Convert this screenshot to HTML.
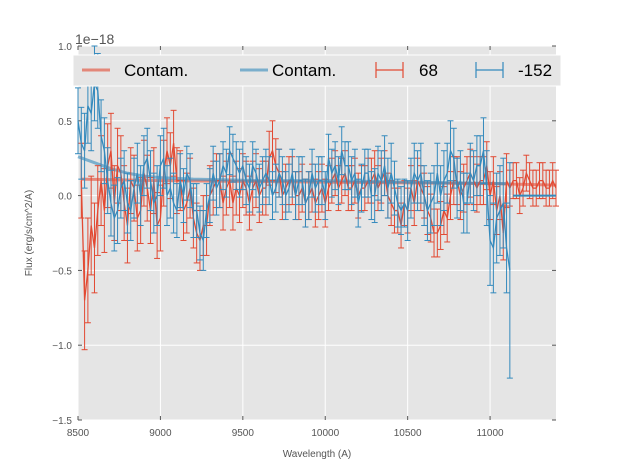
<!DOCTYPE html>
<html><head><meta charset="utf-8"><style>
body{margin:0;background:#fff}
svg{font-family:"Liberation Sans","DejaVu Sans",sans-serif}
</style></head><body>
<svg id="chart" width="617" height="467">
<rect x="78" y="46" width="478" height="374" fill="#e5e5e5"/>
<g id="grid"></g><g id="ticks"></g><g id="series"></g>
<text x="75" y="44" font-size="14" fill="#555">1e−18</text>
<text x="317" y="457" font-size="10" fill="#555" text-anchor="middle">Wavelength (A)</text>
<text transform="translate(32,233) rotate(-90)" font-size="10" fill="#555" text-anchor="middle">Flux (erg/s/cm^2/A)</text>
<g>
<rect x="73" y="55" width="488" height="31" fill="#e5e5e5" stroke="#fff" stroke-width="1"/>
<line x1="82" y1="70" x2="110" y2="70" stroke="#E24A33" stroke-width="3" opacity="0.6"/>
<text x="124" y="76" font-size="17" fill="#000">Contam.</text>
<line x1="240" y1="70" x2="268" y2="70" stroke="#348ABD" stroke-width="3" opacity="0.6"/>
<text x="272" y="76" font-size="17" fill="#000">Contam.</text>
<g stroke="#E24A33" stroke-width="1.2"><line x1="376" y1="70" x2="403" y2="70"/><line x1="376" y1="62" x2="376" y2="78"/><line x1="403" y1="62" x2="403" y2="78"/></g>
<text x="419" y="76" font-size="17" fill="#000">68</text>
<g stroke="#348ABD" stroke-width="1.2"><line x1="476" y1="70" x2="503" y2="70"/><line x1="476" y1="62" x2="476" y2="78"/><line x1="503" y1="62" x2="503" y2="78"/></g>
<text x="518" y="76" font-size="17" fill="#000">-152</text>
</g>
</svg>
<script>
const xTicks=[8500,9000,9500,10000,10500,11000];
const yTicks=[-1.5,-1.0,-0.5,0.0,0.5,1.0];
const yTickLabels=["−1.5","−1.0","−0.5","0.0","0.5","1.0"];
const redStart=8520, redStep=20;
const redY=[0.1,-0.7,-0.5,-0.2,-0.35,-0.1,0.1,-0.1,0.2,0.3,-0.05,0.2,0.15,-0.05,-0.2,0.1,0.05,-0.15,-0.1,0.15,0.05,-0.1,0.1,-0.2,-0.15,0.15,0.3,0.2,0.35,0.1,0.1,-0.1,-0.05,0.05,-0.15,-0.25,-0.3,-0.2,-0.2,0.0,0.05,0.1,0.1,-0.05,0.05,0.1,-0.05,0.05,0.0,0.1,0.05,-0.05,0.05,0.1,0.0,0.05,0.05,0.25,0.3,0.2,0.15,0.0,0.05,0.1,0.1,0.0,0.0,0.05,-0.05,0.0,0.05,-0.05,0.0,0.05,-0.05,0.05,0.1,0.15,0.05,0.1,0.15,0.05,0.05,0.1,0.0,0.05,0.05,0.1,0.1,0.15,0.05,0.1,0.15,0.0,-0.05,-0.1,-0.1,-0.2,-0.05,-0.1,0.05,-0.05,0.1,0.05,0.0,-0.1,-0.15,-0.25,-0.25,-0.2,-0.1,-0.15,0.0,0.1,0.1,0.0,0.05,0.1,0.15,0.1,0.05,0.1,0.1,0.2,0.0,0.1,-0.1,0.0,-0.25,0.1,0.05,0.1,0.1,0.0,0.05,0.15,0.1,0.05,0.05,0.1,0.1,0.05,0.05,0.1,0.05];
const redErr=[0.25,0.33,0.35,0.33,0.3,0.3,0.3,0.28,0.28,0.25,0.25,0.25,0.25,0.25,0.25,0.22,0.22,0.22,0.22,0.22,0.22,0.22,0.22,0.22,0.22,0.22,0.22,0.22,0.22,0.22,0.2,0.2,0.2,0.2,0.2,0.2,0.2,0.2,0.2,0.2,0.18,0.18,0.18,0.18,0.18,0.18,0.18,0.18,0.18,0.18,0.18,0.18,0.18,0.18,0.18,0.18,0.18,0.18,0.2,0.18,0.16,0.16,0.16,0.16,0.16,0.16,0.16,0.16,0.16,0.16,0.16,0.16,0.16,0.16,0.16,0.15,0.15,0.15,0.15,0.15,0.15,0.15,0.15,0.15,0.15,0.15,0.15,0.15,0.15,0.15,0.15,0.15,0.15,0.15,0.15,0.15,0.15,0.15,0.15,0.15,0.15,0.15,0.15,0.15,0.15,0.16,0.16,0.16,0.16,0.16,0.16,0.16,0.16,0.16,0.16,0.16,0.16,0.16,0.16,0.16,0.16,0.16,0.16,0.16,0.16,0.16,0.16,0.16,0.18,0.18,0.12,0.12,0.12,0.12,0.12,0.12,0.12,0.12,0.12,0.12,0.12,0.12,0.12,0.12,0.12];
const blueStart=8500, blueStep=20;
const blueY=[0.5,0.35,0.3,0.6,0.55,0.75,0.7,0.4,0.3,0.1,-0.05,-0.15,-0.1,0.05,0.1,-0.05,-0.1,0.05,0.15,0.0,0.2,0.25,0.1,-0.05,0.0,0.2,0.25,0.0,0.05,-0.05,-0.1,0.1,0.0,0.15,0.1,-0.1,-0.1,-0.25,-0.3,-0.1,0.0,0.15,0.05,0.1,0.2,0.15,0.3,0.25,0.2,0.15,0.2,0.1,0.05,0.2,0.15,0.05,0.1,0.15,0.1,0.0,0.05,0.15,0.1,0.0,0.05,0.15,0.0,0.1,0.1,-0.05,0.0,0.15,0.05,0.1,0.1,0.0,0.25,0.15,0.2,0.1,0.3,0.2,0.2,0.1,0.15,-0.05,0.05,0.15,0.15,0.0,0.0,0.15,0.1,0.2,0.05,0.15,0.05,-0.05,-0.1,-0.05,-0.1,0.05,0.15,0.1,0.15,0.0,-0.1,-0.05,0.0,0.15,0.0,0.1,0.15,0.3,0.25,0.05,0.1,-0.05,-0.05,0.15,0.1,0.2,0.2,0.3,0.05,-0.3,-0.35,-0.15,-0.1,-0.05,-0.35,-0.5];
const blueErr=[0.22,0.24,0.25,0.25,0.25,0.25,0.25,0.24,0.22,0.22,0.22,0.22,0.22,0.2,0.2,0.2,0.2,0.2,0.2,0.2,0.2,0.2,0.2,0.2,0.2,0.2,0.2,0.2,0.2,0.2,0.18,0.18,0.18,0.18,0.18,0.18,0.18,0.18,0.2,0.18,0.18,0.18,0.18,0.18,0.16,0.16,0.16,0.16,0.16,0.16,0.16,0.16,0.16,0.16,0.16,0.16,0.16,0.16,0.16,0.16,0.16,0.16,0.16,0.16,0.16,0.16,0.16,0.16,0.16,0.16,0.16,0.16,0.16,0.16,0.16,0.16,0.16,0.16,0.16,0.16,0.16,0.16,0.16,0.16,0.16,0.16,0.16,0.16,0.16,0.16,0.18,0.18,0.2,0.2,0.2,0.2,0.18,0.16,0.16,0.16,0.2,0.2,0.2,0.2,0.2,0.2,0.2,0.2,0.2,0.2,0.2,0.2,0.2,0.2,0.2,0.2,0.2,0.2,0.2,0.2,0.2,0.2,0.2,0.22,0.25,0.3,0.3,0.3,0.3,0.3,0.3,0.72];
const blueTailX=[11140,11400];
const blueTailY=[0.0,0.0];
const redContamX=[8520,9000,10000,11000,11400];
const redContamY=[0.11,0.1,0.09,0.08,0.07];
const blueContamX=[8500,8600,8700,8800,8900,9000,9200,9600,10000,10500,11100];
const blueContamY=[0.26,0.22,0.18,0.15,0.13,0.12,0.11,0.1,0.1,0.09,0.08];

const NS="http://www.w3.org/2000/svg";
const sx=v=>78+(v-8500)*478/2900;
const sy=v=>420-(v+1.5)*374/2.5;
function mk(tag,attrs,parent){const e=document.createElementNS(NS,tag);for(const k in attrs)e.setAttribute(k,attrs[k]);parent.appendChild(e);return e;}
const grid=document.getElementById('grid'),ticks=document.getElementById('ticks'),ser=document.getElementById('series');
xTicks.forEach(t=>{
 const g=mk('line',{x1:sx(t),x2:sx(t),y1:46,y2:420,stroke:'#fff','stroke-width':1},grid);
 
 
 mk('line',{x1:sx(t),x2:sx(t),y1:420,y2:416,stroke:'#555'},ticks);
 mk('line',{x1:sx(t),x2:sx(t),y1:46,y2:50,stroke:'#555'},ticks);
 const l=mk('text',{x:sx(t),y:436,'font-size':10,fill:'#555','text-anchor':'middle'},ticks);
 l.textContent=t;
 
 
});
yTicks.forEach((t,i)=>{
 const g=mk('line',{x1:78,x2:556,y1:sy(t),y2:sy(t),stroke:'#fff','stroke-width':1},grid);
 
 
 mk('line',{x1:78,x2:82,y1:sy(t),y2:sy(t),stroke:'#555'},ticks);
 mk('line',{x1:552,x2:556,y1:sy(t),y2:sy(t),stroke:'#555'},ticks);
 const l=mk('text',{x:72,y:sy(t)+4,'font-size':10,fill:'#555','text-anchor':'end'},ticks);
 l.textContent=yTickLabels[i];
 
 
});
const redN=Math.min(redY.length,redErr.length), blueN=Math.min(blueY.length,blueErr.length);
const redX=[],blueX=[];
for(let i=0;i<redN;i++)redX.push(redStart+i*redStep);
for(let i=0;i<blueN;i++)blueX.push(blueStart+i*blueStep);
function line(xs,ys,color,w,op,name){
 const p=mk('polyline',{points:xs.map((x,i)=>sx(x)+','+sy(ys[i])).join(' '),fill:'none',stroke:color,'stroke-width':w,opacity:op},ser);
 
 
}
function errs(xs,ys,es,color,name){
 const g=mk('g',{stroke:color,'stroke-width':1},ser);
 
 
 xs.forEach((x,i)=>{
  const X=sx(x),a=sy(ys[i]+es[i]),b=sy(ys[i]-es[i]);
  mk('line',{x1:X,x2:X,y1:a,y2:b},g);
  mk('line',{x1:X-3,x2:X+3,y1:a,y2:a},g);
  mk('line',{x1:X-3,x2:X+3,y1:b,y2:b},g);
 });
}
line(redContamX,redContamY,'#E24A33',3,0.6,'red-contam-line');
line(blueContamX,blueContamY,'#348ABD',3,0.6,'blue-contam-line');
errs(redX,redY.slice(0,redN),redErr,'#E24A33','red-errorbars');
line(redX,redY,'#E24A33',1.3,1,'red-series-68');
errs(blueX,blueY.slice(0,blueN),blueErr,'#348ABD','blue-errorbars');
line(blueX,blueY,'#348ABD',1.3,1,'blue-series-152');
line(blueTailX,blueTailY,'#348ABD',2,1,'blue-series-tail');
</script>
</body></html>
